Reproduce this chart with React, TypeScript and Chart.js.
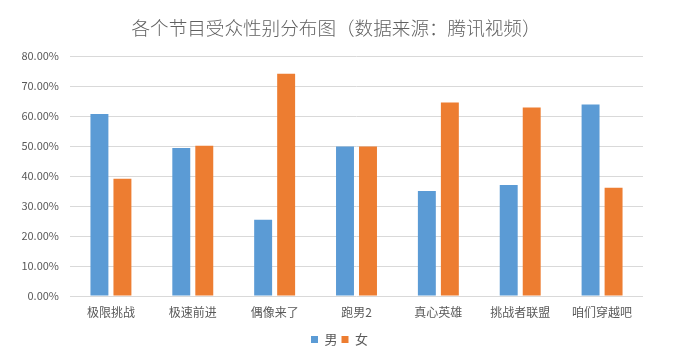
import React, { useEffect, useRef } from "react";
import { Chart, registerables } from "chart.js";

Chart.register(...registerables);

const categories = ["极限挑战", "极速前进", "偶像来了", "跑男2", "真心英雄", "挑战者联盟", "咱们穿越吧"];
const maleValues = [60.7, 49.3, 25.4, 49.8, 35.0, 37.0, 63.8];
const femaleValues = [39.1, 50.1, 74.1, 49.8, 64.5, 62.8, 36.1];
const seriesNames = ["男", "女"];
const titleText = "各个节目受众性别分布图（数据来源：腾讯视频）";

const FONT = '"Noto Sans CJK SC", "Noto Sans", sans-serif';
const TEXT = "#595959";

const centeredTitle = {
  id: "centeredTitle",
  afterDraw(chart: any) {
    const ctx = chart.ctx;
    ctx.save();
    ctx.font = `300 18.6px ${FONT}`;
    ctx.fillStyle = "#606060";
    ctx.textAlign = "center";
    ctx.textBaseline = "middle";
    ctx.fillText(titleText, chart.width / 2 - 3.5, 28.4);
    ctx.restore();
  },
};

export default function App() {
  const ref = useRef<HTMLCanvasElement | null>(null);

  useEffect(() => {
    document.body.style.margin = "0";
    const canvas = ref.current;
    if (!canvas) return;
    const chart = new Chart(canvas, {
      type: "bar",
      data: {
        labels: categories,
        datasets: [
          {
            label: seriesNames[0],
            data: maleValues,
            backgroundColor: "#5B9BD5",
            categoryPercentage: 0.562,
            barPercentage: 0.78,
          },
          {
            label: seriesNames[1],
            data: femaleValues,
            backgroundColor: "#ED7D31",
            categoryPercentage: 0.562,
            barPercentage: 0.78,
          },
        ],
      },
      options: {
        responsive: false,
        animation: false,
        devicePixelRatio: 1,
        layout: { padding: { left: 0, right: 0, top: 56, bottom: -1 } },
        plugins: {
          title: { display: false },
          legend: {
            position: "bottom",
            labels: {
              color: TEXT,
              font: { family: FONT, size: 13 },
              boxWidth: 7,
              boxHeight: 7,
              padding: 4,
            },
          },
          tooltip: { enabled: false },
        },
        scales: {
          x: {
            grid: { display: false, drawTicks: false },
            border: { display: false },
            ticks: {
              color: TEXT,
              font: { family: FONT, size: 12 },
              padding: 9,
              maxRotation: 0,
              autoSkip: false,
            },
            afterFit: (scale: any) => {
              scale.height = 33;
            },
          },
          y: {
            min: 0,
            max: 80,
            grid: { color: "#d9d9d9", drawTicks: false },
            border: { display: false },
            ticks: {
              stepSize: 10,
              color: TEXT,
              font: { family: FONT, size: 11 },
              padding: 11,
              callback: (v: any) => Number(v).toFixed(2) + "%",
            },
            afterFit: (scale: any) => {
              scale.width = 70;
            },
          },
          yRightMargin: {
            type: "linear",
            position: "right",
            display: true,
            min: 0,
            max: 80,
            grid: { display: false, drawTicks: false },
            border: { display: false },
            ticks: { display: false },
            afterFit: (scale: any) => {
              scale.width = 36;
            },
          },
        },
      },
      plugins: [centeredTitle],
    });
    return () => chart.destroy();
  }, []);

  return (
    <div style={{ width: 679, height: 355, background: "#fff" }}>
      <canvas ref={ref} width={679} height={355} style={{ width: 679, height: 355, display: "block" }} />
    </div>
  );
}
